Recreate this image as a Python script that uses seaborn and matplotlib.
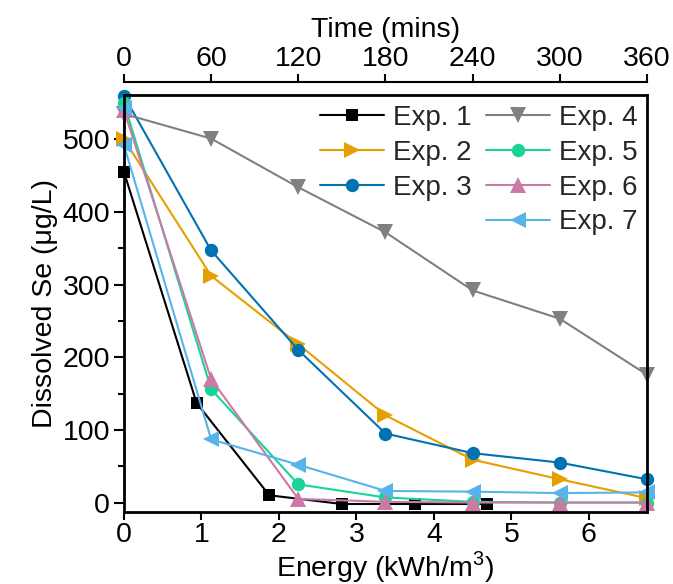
import matplotlib
matplotlib.use("Agg")
import matplotlib.pyplot as plt
import seaborn as sns
from matplotlib.lines import Line2D
from matplotlib.ticker import MultipleLocator

# ---- data ----
energy_exp1 = [0, 0.9375, 1.875, 2.8125, 3.75, 4.6875]
se_exp1 = [455, 137, 10, -2, -2, -2]
energy_std = [0, 1.125, 2.25, 3.375, 4.5, 5.625, 6.75]
se_exp2 = [500, 312, 218, 120, 59, 32, 6]
se_exp3 = [560, 347, 210, 95, 68, 55, 32]
se_exp4 = [535, 501, 434, 372, 292, 253, 176]
se_exp5 = [550, 156, 25, 7, 1, 0, 0]
se_exp6 = [540, 170, 5, 1, 0, 0, 0]
energy_exp7 = [0, 0, 1.125, 2.25, 3.375, 4.5, 5.625, 6.75]
se_exp7 = [543, 492, 87, 52, 16, 15, 13, 14]

labels = ["Exp. 1", "Exp. 2", "Exp. 3", "Exp. 4", "Exp. 5", "Exp. 6", "Exp. 7"]
colors = ["#000000", "#E69F00", "#0072B2", "#808080", "#19D495", "#CC79A7", "#56B4E9"]
markers = ["s", ">", "o", "v", "o", "^", "<"]
msizes = [8.4, 11, 9.6, 11.5, 9.6, 11, 11]

time_ticks = [0, 60, 120, 180, 240, 300, 360]
energy_ticks = [0, 1, 2, 3, 4, 5, 6]
se_ticks = [0, 100, 200, 300, 400, 500]

series = [
    (energy_exp1, se_exp1),
    (energy_std, se_exp2),
    (energy_std, se_exp3),
    (energy_std, se_exp4),
    (energy_std, se_exp5),
    (energy_std, se_exp6),
    (energy_exp7, se_exp7),
]

sns.set_theme(style="ticks")
plt.rcParams["font.family"] = ["Liberation Sans", "DejaVu Sans"]
plt.rcParams["mathtext.fontset"] = "custom"
plt.rcParams["mathtext.rm"] = "Liberation Sans"
FS = 20.5
LFS = 20

fig = plt.figure(figsize=(6.73, 5.84), dpi=100)
ax = fig.add_axes([0.1842, 0.1233, 0.7772, 0.714])

for (xs, ys), lab, c, m, ms in zip(series, labels, colors, markers, msizes):
    sns.lineplot(x=xs, y=ys, ax=ax, color=c, marker=m, markersize=ms,
                 markeredgewidth=0, linewidth=1.5, label=lab, sort=False,
                 estimator=None, clip_on=False)

ax.set_xlim(0, 6.75)
ax.set_ylim(-13, 561)
ax.set_xticks(energy_ticks)
ax.set_yticks(se_ticks)
ax.yaxis.set_minor_locator(MultipleLocator(50))
ax.tick_params(axis="both", which="major", direction="out", length=7, width=1.5,
               labelsize=FS, color="black", labelcolor="black", pad=3)
ax.tick_params(axis="y", which="minor", direction="out", length=4, width=1.5, color="black")
ax.tick_params(axis="x", which="major", length=6, pad=1.5)
for s in ax.spines.values():
    s.set_visible(True)
    s.set_linewidth(2)
    s.set_color("black")
ax.set_xlabel("Energy (kWh/m$^3$)", fontsize=FS, color="black", labelpad=0.5)
ax.set_ylabel("Dissolved Se (\u03bcg/L)", fontsize=FS, color="black", labelpad=3)

# top time axis
ax2 = ax.twiny()
ax2.set_xlim(0, 360)
ax2.set_xticks(time_ticks)
for k in ["bottom", "left", "right"]:
    ax2.spines[k].set_visible(False)
ax2.spines["top"].set_position(("outward", 9.4))
ax2.spines["top"].set_linewidth(1.5)
ax2.spines["top"].set_color("black")
ax2.tick_params(axis="x", which="major", direction="out", length=6, width=1.5,
                labelsize=FS, color="black", labelcolor="black", pad=1.5)
ax2.set_xlabel("Time (mins)", fontsize=FS, color="black", labelpad=6)

# legend with blank slot
handles, labs = ax.get_legend_handles_labels()
if ax.get_legend() is not None:
    ax.get_legend().remove()
blank = Line2D([], [], linestyle="none", marker=None)
handles = handles[:3] + [blank] + handles[3:]
labs = labs[:3] + [""] + labs[3:]
leg = ax.legend(handles, labs, ncol=2, loc="upper right", bbox_to_anchor=(1.0, 1.0),
                frameon=False, fontsize=LFS, handlelength=2.3, handletextpad=0.3,
                columnspacing=0.55, labelspacing=0.32, borderaxespad=0.0, borderpad=0.35)

fig.savefig("out.png", dpi=100)
